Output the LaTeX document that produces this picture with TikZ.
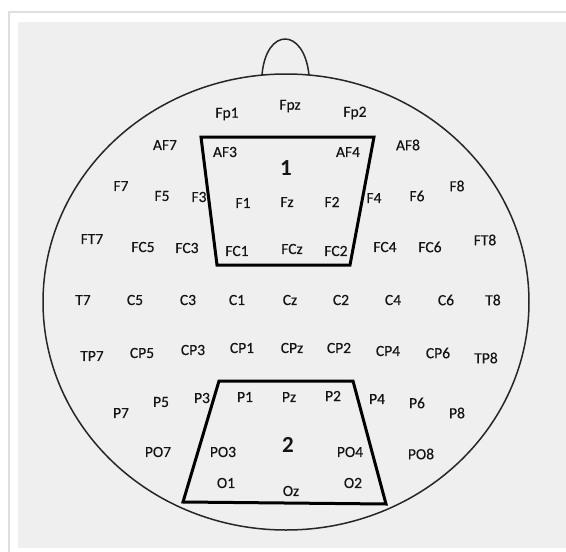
\documentclass[tikz,border=0pt]{standalone}
\usepackage{fontspec}
\setmainfont{Carlito}
\newfontfamily\elecfont{Carlito}[FakeBold=0.35]
\usetikzlibrary{positioning}
\definecolor{panel}{HTML}{EFEFEF}
\definecolor{frameline}{HTML}{DEDEDE}
\definecolor{ink}{HTML}{141414}

\begin{document}
\begin{tikzpicture}[
    x=1pt, y=-1pt,
    elec/.style={inner sep=0pt, font=\elecfont\fontsize{15.5}{18}\selectfont, text=ink},
    roilabel/.style={inner sep=0pt, font=\fontsize{23}{26}\selectfont\bfseries, text=ink},
    roi/.style={draw=black, line width=3pt, line join=miter},
    head/.style={draw=black!85, line width=1.5pt},
]
\useasboundingbox (0,0) rectangle (566,552);

% frame and grey panel
\draw[frameline, fill=white, line width=2pt] (9,12) rectangle (572,560);
\fill[panel] (18,22) rectangle (566,548);

% head outline and nose
\draw[head] (286,302) ellipse [x radius=243, y radius=228];
\draw[head] (262,75) .. controls (266,27) and (304,27) .. (309,75);

% region 1 (frontal)
\coordinate (A1) at (201,137);
\coordinate (A2) at (374,137);
\coordinate (A3) at (350,265);
\coordinate (A4) at (217,265);
\draw[roi] (A1) -- (A2) -- (A3) -- (A4) -- cycle;
\node[roilabel] (roi1) at (286,168) {1};

% region 2 (parieto-occipital)
\coordinate (B1) at (219,381);
\coordinate (B2) at (353,381);
\coordinate (B3) at (386,504);
\coordinate (B4) at (183,502);
\draw[roi] (B1) -- (B2) -- (B3) -- (B4) -- cycle;
\node[roilabel] (roi2) at (288,445) {2};

% electrode labels, row by row
\foreach \x/\y/\lab in {227/114/Fp1, 290/106/Fpz, 355/113/Fp2,
    165/145/AF7, 225/152/AF3, 348/152/AF4, 408/145/AF8,
    121/186/F7, 162/196/F5, 199/197/F3, 243/203/F1, 287/202/Fz,
    332/202/F2, 374/198/F4, 417/196/F6, 457/186/F8} {
    \node[elec] (\lab) at (\x,\y) {\lab};
}
\foreach \x/\y/\lab in {92/239/FT7, 143/247/FC5, 187/248/FC3, 237/251/FC1,
    292/249/FCz, 336/251/FC2, 385/247/FC4, 430/247/FC6, 485/240/FT8} {
    \node[elec] (\lab) at (\x,\y) {\lab};
}
\foreach \x/\y/\lab in {83/300/T7, 135/300/C5, 188/300/C3, 237/300/C1,
    290/300/Cz, 341/300/C2, 393/300/C4, 446/300/C6, 493/300/T8} {
    \node[elec] (\lab) at (\x,\y) {\lab};
}
\foreach \x/\y/\lab in {92/356/TP7, 142/353/CP5, 193/350/CP3, 242/348/CP1,
    292/348/CPz, 339/348/CP2, 388/351/CP4, 438/353/CP6, 486/358/TP8} {
    \node[elec] (\lab) at (\x,\y) {\lab};
}
\foreach \x/\y/\lab in {121/413/P7, 161/402/P5, 202/398/P3, 245/397/P1,
    289/397/Pz, 333/396/P2, 377/399/P4, 417/403/P6, 457/413/P8,
    158/452/PO7, 223/452/PO3, 350/452/PO4, 421/454/PO8,
    226/483/O1, 291/491/Oz, 353/483/O2} {
    \node[elec] (\lab) at (\x,\y) {\lab};
}

\end{tikzpicture}
\end{document}
